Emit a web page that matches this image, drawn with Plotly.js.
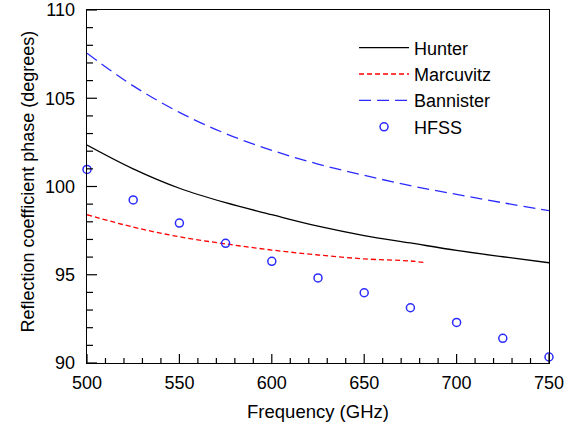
<!DOCTYPE html>
<html>
<head>
<meta charset="utf-8">
<script src="https://cdn.plot.ly/plotly-3.0.1.min.js"></script>
<style>html,body{margin:0;padding:0;background:#fff;}#chart{width:581px;height:425px;}</style>
</head>
<body>
<div id="chart"></div>
<script>
// Data
const hunterX = [500, 525, 550, 575, 600, 625, 650, 675, 700, 725, 750];
const hunterY = [102.35, 101.0, 99.9, 99.08, 98.4, 97.75, 97.22, 96.8, 96.38, 96.02, 95.68];

const marcX = [500, 525, 550, 575, 600, 625, 650, 675, 682];
const marcY = [98.4, 97.7, 97.15, 96.75, 96.4, 96.12, 95.9, 95.78, 95.7];

const bannX = [500, 525, 550, 575, 600, 625, 650, 675, 700, 725, 750];
const bannY = [107.55, 105.7, 104.2, 103.0, 102.05, 101.27, 100.63, 100.05, 99.55, 99.08, 98.63];

const hfssX = [500, 525, 550, 575, 600, 625, 650, 675, 700, 725, 750];
const hfssY = [100.97, 99.24, 97.93, 96.78, 95.76, 94.82, 93.98, 93.13, 92.30, 91.40, 90.34];

// Axis ranges and tick positions
const xRange = [500, 750];
const yRange = [90, 110];
const xMajorTicks = [500, 550, 600, 650, 700, 750];
const xMinorTicks = [510, 520, 530, 540, 560, 570, 580, 590, 610, 620, 630, 640,
                     660, 670, 680, 690, 710, 720, 730, 740];
const yMajorTicks = [90, 95, 100, 105, 110];
const yMinorTicks = [91, 92, 93, 94, 96, 97, 98, 99, 101, 102, 103, 104, 106, 107, 108, 109];

const tickLine = {color: '#000', width: 1.2};
function xTick(v, len) {
  return {type: 'line', layer: 'above', xref: 'x', yref: 'y', ysizemode: 'pixel', yanchor: yRange[0],
          x0: v, x1: v, y0: 0, y1: len, line: tickLine};
}
function yTick(v, len) {
  return {type: 'line', layer: 'above', xref: 'x', yref: 'y', xsizemode: 'pixel', xanchor: xRange[0],
          x0: 0, x1: len, y0: v, y1: v, line: tickLine};
}
const tickShapes = [].concat(
  xMajorTicks.map(v => xTick(v, 9)),
  xMinorTicks.map(v => xTick(v, 5)),
  yMajorTicks.map(v => yTick(v, 10)),
  yMinorTicks.map(v => yTick(v, 6))
);

const traces = [
  {x: hunterX, y: hunterY, name: 'Hunter', mode: 'lines', legendgroup: 'a',
   line: {color: '#000000', width: 1.3, shape: 'spline'}},
  {x: marcX, y: marcY, name: 'Marcuvitz', mode: 'lines', legendgroup: 'b',
   line: {color: '#ff0000', width: 1.3, dash: '5px,3px', shape: 'spline'}},
  {x: bannX, y: bannY, name: 'Bannister', mode: 'lines', legendgroup: 'c',
   line: {color: '#2b2bff', width: 1.3, dash: '12px,6px', shape: 'spline'}},
  {x: hfssX, y: hfssY, name: 'HFSS', mode: 'markers', legendgroup: 'd', cliponaxis: false,
   marker: {symbol: 'circle-open', size: 8, color: '#2b2bff', line: {width: 1.5, color: '#2b2bff'}}}
];

const fam = 'Arial, "Liberation Sans", sans-serif';

const layout = {
  width: 581, height: 425,
  margin: {l: 87, r: 32, t: 10, b: 62, pad: 0},
  paper_bgcolor: '#fff', plot_bgcolor: '#fff',
  font: {family: fam, size: 18, color: '#000'},
  showlegend: true,
  legend: {x: 0.578, y: 0.945, xanchor: 'left', yanchor: 'top', bgcolor: 'rgba(0,0,0,0)',
           font: {family: fam, size: 18, color: '#000'}, tracegroupgap: 4,
           traceorder: 'normal', itemwidth: 50},
  xaxis: {
    range: xRange, tickvals: xMajorTicks, ticktext: xMajorTicks.map(String), tickmode: 'array',
    ticks: '', showline: true, linecolor: '#000', linewidth: 1.4, mirror: true,
    showgrid: false, zeroline: false, ticklabelstandoff: 3,
    tickfont: {family: fam, size: 18, color: '#000'},
    title: {text: 'Frequency (GHz)', font: {family: fam, size: 18.5, color: '#000'}, standoff: 13}
  },
  yaxis: {
    range: yRange, tickvals: yMajorTicks, ticktext: yMajorTicks.map(String), tickmode: 'array',
    ticks: '', showline: true, linecolor: '#000', linewidth: 1.4, mirror: true,
    showgrid: false, zeroline: false, ticklabelstandoff: 7,
    tickfont: {family: fam, size: 18, color: '#000'}
  },
  shapes: tickShapes,
  annotations: [{
    text: 'Reflection coefficient phase (degrees)', textangle: -90,
    xref: 'paper', yref: 'paper', x: 0, y: 0.514, xanchor: 'center', yanchor: 'middle',
    xshift: -59, showarrow: false, font: {family: fam, size: 18, color: '#000'}
  }]
};

Plotly.newPlot('chart', traces, layout, {displayModeBar: false, staticPlot: true});
</script>
</body>
</html>
